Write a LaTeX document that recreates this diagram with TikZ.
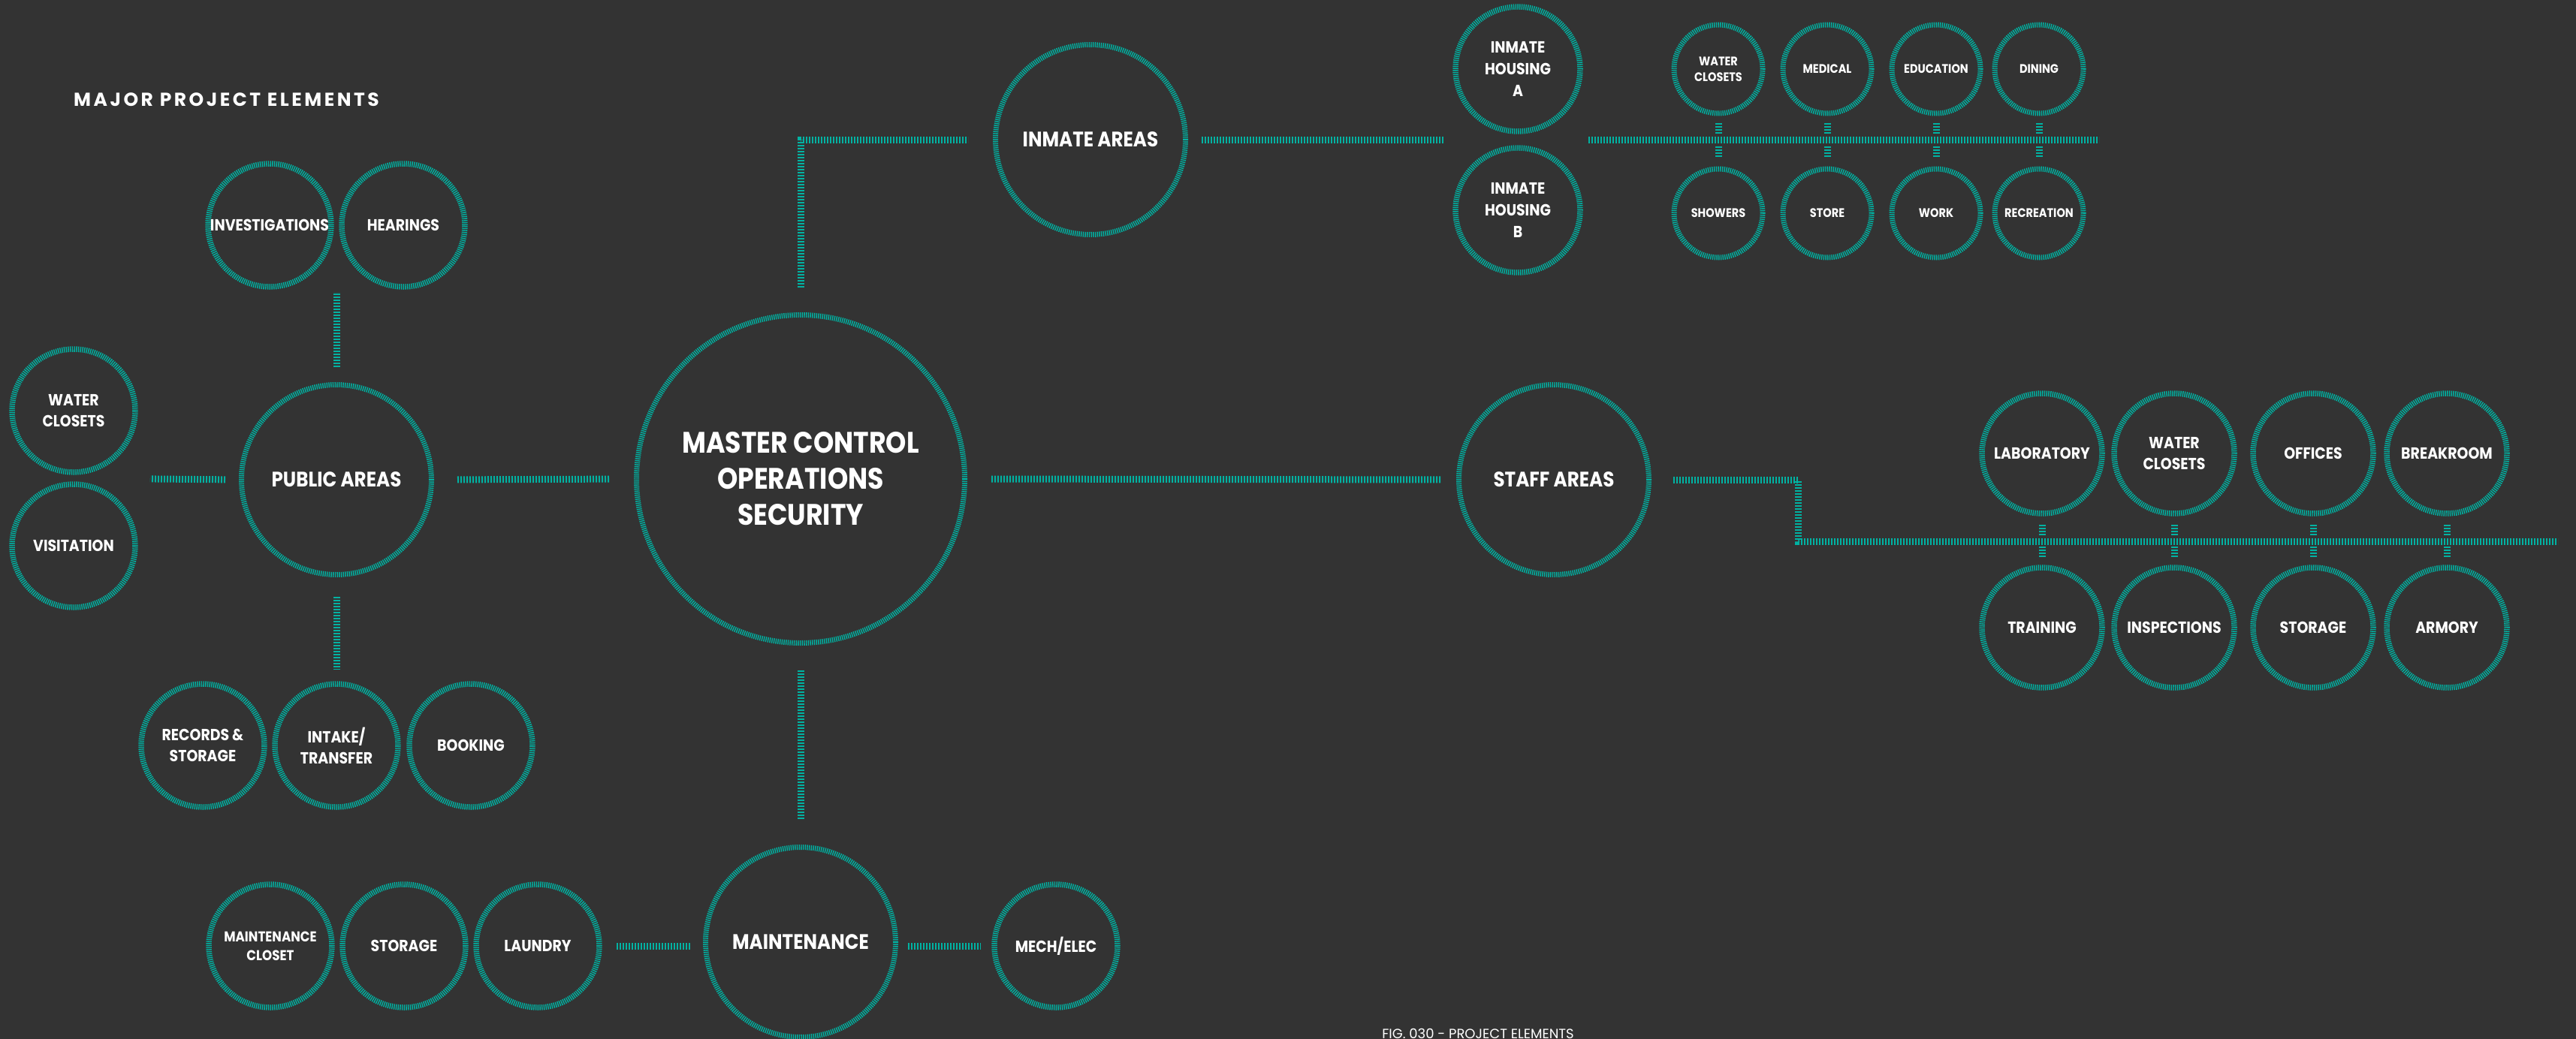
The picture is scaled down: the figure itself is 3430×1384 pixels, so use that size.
\documentclass[tikz,border=0pt]{standalone}
\usepackage{fontspec}
\setmainfont{Poppins}
\newfontfamily\lblfont{Poppins}[FakeStretch=0.88]
\usetikzlibrary{calc}
\definecolor{bgc}{RGB}{51,51,51}
\definecolor{tealc}{RGB}{0,178,162}
\tikzset{
  ring/.style={circle, draw=tealc, line width=7.5pt, dash pattern=on 1.4pt off 1.3pt,
    text=white, align=center, inner sep=0pt},
  smallc/.style={ring, minimum size=164pt, font=\lblfont\fontsize{21.5}{28}\selectfont\bfseries},
  housec/.style={ring, minimum size=166pt, font=\lblfont\fontsize{21.5}{29}\selectfont\bfseries},
  staffc/.style={ring, minimum size=160pt, font=\lblfont\fontsize{21.5}{28}\selectfont\bfseries},
  tinyc/.style={ring, minimum size=118pt, line width=7pt, font=\lblfont\fontsize{16.5}{21}\selectfont\bfseries},
  bigc/.style={ring, line width=7pt, minimum size=253pt, font=\lblfont\fontsize{28}{32}\selectfont\bfseries},
  masterc/.style={ring, line width=7pt, minimum size=437pt, font=\lblfont\fontsize{39.5}{48}\selectfont\bfseries},
  conn/.style={draw=tealc, line width=9pt, dash pattern=on 2pt off 2pt},
}
\begin{document}
\begin{tikzpicture}[x=1pt,y=-1pt]
\fill[bgc] (0,0) rectangle (3430,1384);
\useasboundingbox (0,0) rectangle (3430,1384);

% title and caption
\node[anchor=base west, inner sep=0pt, text=white,
  font=\fontsize{25}{28}\selectfont\bfseries\addfontfeature{LetterSpace=14}] (title) at (98,141) {MAJOR PROJECT ELEMENTS};
\node[anchor=base, inner sep=0pt, text=white, font=\fontsize{18}{22}\selectfont] (caption) at (1968,1383) {FIG. 030 - PROJECT ELEMENTS};

% central
\node[masterc] (master) at (1066,638) {MASTER CONTROL\\OPERATIONS\\SECURITY};

% public areas group
\node[bigc] (public) at (448,639) {PUBLIC AREAS};
\node[smallc] (inv) at (359,300) {INVESTIGATIONS};
\node[smallc] (hear) at (537,300) {HEARINGS};
\node[smallc] (pwc) at (98,547) {WATER\\CLOSETS};
\node[smallc] (visit) at (98,727) {VISITATION};
\node[smallc] (records) at (270,993) {RECORDS \&\\STORAGE};
\node[smallc] (intake) at (448,993) {INTAKE/\\TRANSFER};
\node[smallc] (booking) at (627,993) {BOOKING};

% maintenance group
\node[bigc] (maint) at (1066,1255) {MAINTENANCE};
\node[smallc, font=\lblfont\fontsize{19}{25}\selectfont\bfseries] (mclos) at (360,1260) {MAINTENANCE\\CLOSET};
\node[smallc] (mstor) at (538,1260) {STORAGE};
\node[smallc] (laundry) at (716,1260) {LAUNDRY};
\node[smallc] (mech) at (1406,1260) {MECH/ELEC};

% inmate group
\node[bigc] (inmate) at (1452,186) {INMATE AREAS};
\node[housec] (housA) at (2021,92) {INMATE\\HOUSING\\A};
\node[housec] (housB) at (2021,280) {INMATE\\HOUSING\\B};
\node[tinyc] (iwc) at (2288,92) {WATER\\CLOSETS};
\node[tinyc] (imed) at (2433,92) {MEDICAL};
\node[tinyc] (iedu) at (2578,92) {EDUCATION};
\node[tinyc] (idin) at (2715,92) {DINING};
\node[tinyc] (ishow) at (2288,284) {SHOWERS};
\node[tinyc] (istore) at (2433,284) {STORE};
\node[tinyc] (iwork) at (2578,284) {WORK};
\node[tinyc] (irec) at (2715,284) {RECREATION};
\coordinate (ibusL) at (2115,186);
\coordinate (ibusR) at (2795,186);

% staff group
\node[bigc] (staff) at (2069,639) {STAFF AREAS};
\node[staffc] (slab) at (2719,604) {LABORATORY};
\node[staffc] (swc) at (2895,604) {WATER\\CLOSETS};
\node[staffc] (soff) at (3080,604) {OFFICES};
\node[staffc] (sbreak) at (3258,604) {BREAKROOM};
\node[staffc] (strain) at (2719,836) {TRAINING};
\node[staffc] (sinsp) at (2895,836) {INSPECTIONS};
\node[staffc] (sstor) at (3080,836) {STORAGE};
\node[staffc] (sarm) at (3258,836) {ARMORY};
\coordinate (sbusL) at (2394,721);
\coordinate (sbusR) at (3406,721);

% connectors: master
\draw[conn, shorten <=33pt, shorten >=33pt] (master.north) |- (inmate.west);
\draw[conn, shorten <=32pt, shorten >=21pt] (master.east) -- (staff.west);
\draw[conn, shorten <=33pt, shorten >=33pt] (master.south) -- (maint.north);
\draw[conn, shorten <=31pt, shorten >=33pt] (public.east) -- (master.west);

% public
\draw[conn, shorten <=18pt, shorten >=102pt] (public.west) -- ($(pwc.south)!0.5!(visit.north)$);
\draw[conn, shorten <=20pt, shorten >=89pt] (public.north) -- ($(inv.east)!0.5!(hear.west)$);
\draw[conn, shorten <=26pt, shorten >=16pt] (public.south) -- (intake.north);

% maintenance
\draw[conn, shorten <=19pt, shorten >=17pt] (laundry.east) -- (laundry.east -| maint.west);
\draw[conn, shorten <=13pt, shorten >=15pt] (mech.west -| maint.east) -- (mech.west);

% inmate
\draw[conn, shorten <=18pt, shorten >=99pt] (inmate.east) -- ($(housA.south)!0.5!(housB.north)$);
\draw[conn] (ibusL) -- (ibusR);
\foreach \n in {iwc,imed,iedu,idin}
  \draw[conn, shorten <=9pt, shorten >=8pt] (\n.south) -- (\n.south |- ibusL);
\foreach \n in {ishow,istore,iwork,irec}
  \draw[conn, shorten <=9pt, shorten >=12pt] (\n.north |- ibusL) -- (\n.north);

% staff
\draw[conn, shorten <=29pt] (staff.east) -| (sbusL) -- (sbusR);
\foreach \n in {slab,swc,soff,sbreak}
  \draw[conn, shorten <=11pt, shorten >=8pt] (\n.south) -- (\n.south |- sbusL);
\foreach \n in {strain,sinsp,sstor,sarm}
  \draw[conn, shorten <=7pt, shorten >=9pt] (\n.north |- sbusL) -- (\n.north);
\end{tikzpicture}
\end{document}
